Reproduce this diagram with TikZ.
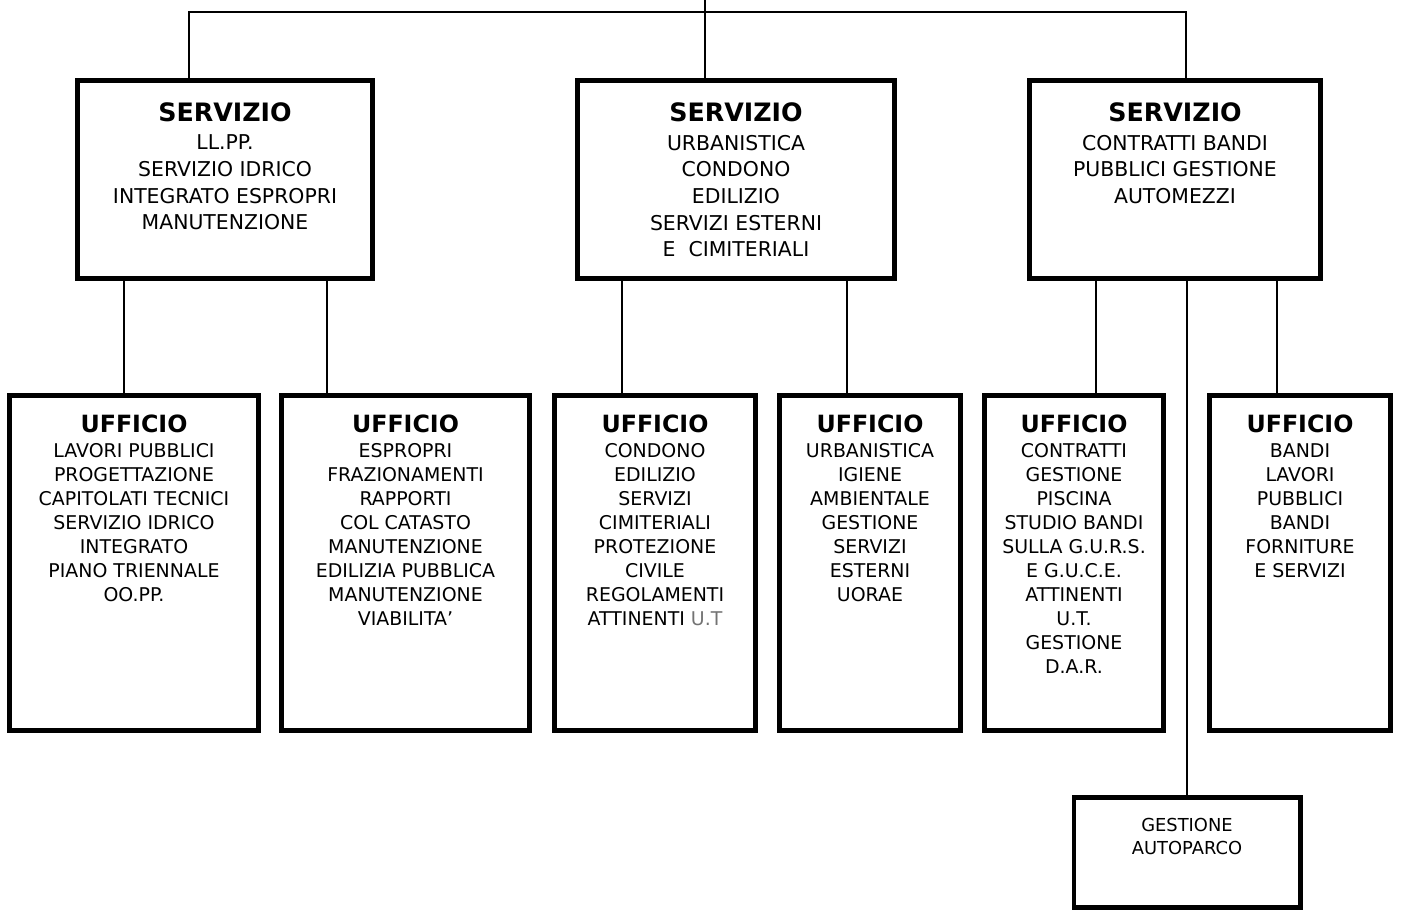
\documentclass[tikz,border=0pt]{standalone}
\usepackage{fontspec}
\setmainfont{DejaVu Sans}
\usetikzlibrary{positioning}

\begin{document}
\begin{tikzpicture}[x=0.75pt,y=-0.75pt,
  box/.style={draw=black,line width=3.6pt,fill=white,inner sep=0pt},
  sbox/.style={box,minimum height=148.65pt},
  ubox/.style={box,minimum height=251.4pt},
  stitle/.style={inner sep=0pt,font=\bfseries\fontsize{19}{22}\selectfont},
  utitle/.style={inner sep=0pt,font=\bfseries\fontsize{17.8}{21}\selectfont},
  sbody/.style={inner sep=0pt,align=center,font=\fontsize{15.3}{20}\selectfont},
  ubody/.style={inner sep=0pt,align=center,font=\fontsize{14.2}{18}\selectfont},
  link/.style={line width=0.9pt}]

\useasboundingbox (0,0) rectangle (1402,911);

%Servizi
\node[sbox,minimum width=221.4pt] (s1) at (225,179.5) {};
\node[sbox,minimum width=237.9pt] (s2) at (736,179.5) {};
\node[sbox,minimum width=218.4pt] (s3) at (1175,179.5) {};

\node[stitle,below=18.5pt of s1.north] (s1t) {SERVIZIO};
\node[sbody,below=42.5pt of s1.north] (s1b) {LL.PP.\\SERVIZIO IDRICO\\INTEGRATO ESPROPRI\\MANUTENZIONE};
\node[stitle,below=18.5pt of s2.north] (s2t) {SERVIZIO};
\node[sbody,below=42.5pt of s2.north] (s2b) {URBANISTICA\\CONDONO\\EDILIZIO\\SERVIZI ESTERNI\\E\ \ CIMITERIALI};
\node[stitle,below=18.5pt of s3.north] (s3t) {SERVIZIO};
\node[sbody,below=42.5pt of s3.north] (s3b) {CONTRATTI BANDI\\PUBBLICI GESTIONE\\AUTOMEZZI};

%Uffici
\node[ubox,minimum width=186.9pt] (u1) at (134,563) {};
\node[ubox,minimum width=186.15pt] (u2) at (405.5,563) {};
\node[ubox,minimum width=150.9pt] (u3) at (655,563) {};
\node[ubox,minimum width=135.9pt] (u4) at (870,563) {};
\node[ubox,minimum width=134.4pt] (u5) at (1074,563) {};
\node[ubox,minimum width=135.9pt] (u6) at (1300,563) {};

\node[utitle,below=16.3pt of u1.north] (u1t) {UFFICIO};
\node[ubody,below=37.5pt of u1.north] (u1b) {LAVORI PUBBLICI\\PROGETTAZIONE\\CAPITOLATI TECNICI\\SERVIZIO IDRICO\\INTEGRATO\\PIANO TRIENNALE\\OO.PP.};
\node[utitle,below=16.3pt of u2.north] (u2t) {UFFICIO};
\node[ubody,below=37.5pt of u2.north] (u2b) {ESPROPRI\\FRAZIONAMENTI\\RAPPORTI\\COL CATASTO\\MANUTENZIONE\\EDILIZIA PUBBLICA\\MANUTENZIONE\\VIABILITA’};
\node[utitle,below=16.3pt of u3.north] (u3t) {UFFICIO};
\node[ubody,below=37.5pt of u3.north] (u3b) {CONDONO\\EDILIZIO\\SERVIZI\\CIMITERIALI\\PROTEZIONE\\CIVILE\\REGOLAMENTI\\ATTINENTI {\color{black!55}U.T}};
\node[utitle,below=16.3pt of u4.north] (u4t) {UFFICIO};
\node[ubody,below=37.5pt of u4.north] (u4b) {URBANISTICA\\IGIENE\\AMBIENTALE\\GESTIONE\\SERVIZI\\ESTERNI\\UORAE};
\node[utitle,below=16.3pt of u5.north] (u5t) {UFFICIO};
\node[ubody,below=37.5pt of u5.north] (u5b) {CONTRATTI\\GESTIONE\\PISCINA\\STUDIO BANDI\\SULLA G.U.R.S.\\E G.U.C.E.\\ATTINENTI\\U.T.\\GESTIONE\\D.A.R.};
\node[utitle,below=16.3pt of u6.north] (u6t) {UFFICIO};
\node[ubody,below=37.5pt of u6.north] (u6b) {BANDI\\LAVORI\\PUBBLICI\\BANDI\\FORNITURE\\E SERVIZI};

%Autoparco
\node[box,minimum width=169.65pt,minimum height=82.65pt] (ap) at (1187,852.5) {};
\node[ubody,font=\fontsize{13.4}{17.25}\selectfont,below=17.5pt of ap.north] (apb) {GESTIONE\\AUTOPARCO};

%Collegamenti
\coordinate (root) at (705,0);
\coordinate (bus) at (705,12);
\draw[link] (root) -- (bus);
\draw[link] (189,0 |- s1.north) |- (bus) -| (1186,0 |- s3.north);
\draw[link] (bus) -- (bus |- s2.north);
\foreach \x/\a/\b in {124/s1/u1,327/s1/u2,622/s2/u3,847/s2/u4,1096/s3/u5,1277/s3/u6}
  \draw[link] (\x,0 |- \a.south) -- (\x,0 |- \b.north);
\draw[link] (ap.north |- s3.south) -- (ap.north);

\end{tikzpicture}
\end{document}
